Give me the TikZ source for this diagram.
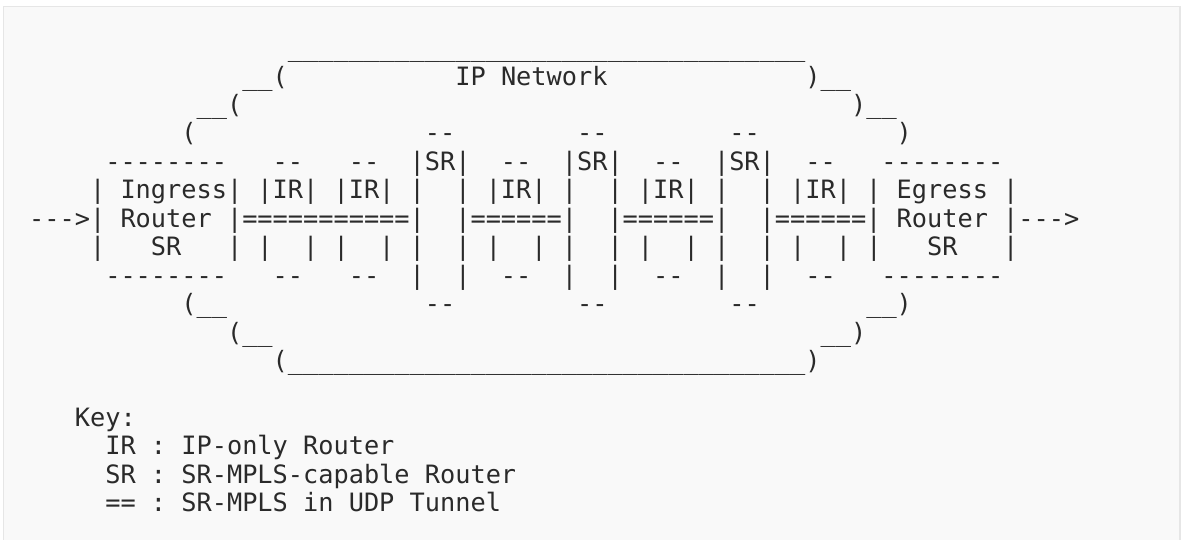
\documentclass[tikz,border=0pt]{standalone}
\usepackage{fontspec}
\setmonofont{DejaVu Sans Mono}
\ExplSyntaxOn
\cs_new_eq:NN \Rep \prg_replicate:nn
\ExplSyntaxOff
\definecolor{bgfill}{HTML}{F9F9F9}
\definecolor{bgline}{HTML}{E6E6E6}
\definecolor{ink}{HTML}{2A2A2A}
\tikzset{
  asc/.style={anchor=base west, inner sep=0pt, outer sep=0pt, text=ink,
    font=\ttfamily\fontsize{25.28}{28.44}\selectfont},
  panel/.style={fill=bgfill, draw=none},
  panelrule/.style={draw=bgline, line width=1.2pt}
}
\newcommand\ascrow[3]{\node[asc] (#1) at (29.2, {539-56.6-28.44*#2}) {#3};}
\begin{document}
\begin{tikzpicture}[x=1pt,y=1pt]
\useasboundingbox (0,0) rectangle (1185,539);
\fill[white] (0,0) rectangle (1185,539);
\path[panel] (3.5,-2) rectangle (1180,532.5);
\draw[panelrule] (3.5,-2) -- (3.5,532.5) -- (1180,532.5) -- (1180,-2);
\ascrow{r0}{0}{\Rep{17}{~}\Rep{34}{\_}}
\ascrow{r1}{1}{\Rep{14}{~}\_\_(\Rep{11}{~}IP~Network\Rep{13}{~})\_\_}
\ascrow{r2}{2}{\Rep{11}{~}\_\_(\Rep{40}{~})\_\_}
\ascrow{r3}{3}{\Rep{10}{~}(\Rep{15}{~}--\Rep{8}{~}--\Rep{8}{~}--\Rep{9}{~})}
\ascrow{r4}{4}{\Rep{5}{~}--------~~~--~~~--~~|SR|~~--~~|SR|~~--~~|SR|~~--~~~--------}
\ascrow{r5}{5}{~~~~|~Ingress|~|IR|~|IR|~|~~|~|IR|~|~~|~|IR|~|~~|~|IR|~|~Egress~|}
\ascrow{r6}{6}{--->|~Router~|===========|~~|======|~~|======|~~|======|~Router~|--->}
\ascrow{r7}{7}{~~~~|~~~SR~~~|\Rep{8}{~|~~|}~|~~~SR~~~|}
\ascrow{r8}{8}{\Rep{5}{~}--------~~~--~~~--~~|~~|~~--~~|~~|~~--~~|~~|~~--~~~--------}
\ascrow{r9}{9}{\Rep{10}{~}(\_\_\Rep{13}{~}--\Rep{8}{~}--\Rep{8}{~}--\Rep{7}{~}\_\_)}
\ascrow{r10}{10}{\Rep{13}{~}(\_\_\Rep{36}{~}\_\_)}
\ascrow{r11}{11}{\Rep{16}{~}(\Rep{34}{\_})}
\ascrow{r13}{13}{~~~Key:}
\ascrow{r14}{14}{\Rep{5}{~}IR~:~IP-only~Router}
\ascrow{r15}{15}{\Rep{5}{~}SR~:~SR-MPLS-capable~Router}
\ascrow{r16}{16}{\Rep{5}{~}==~:~SR-MPLS~in~UDP~Tunnel}
\end{tikzpicture}
\end{document}
